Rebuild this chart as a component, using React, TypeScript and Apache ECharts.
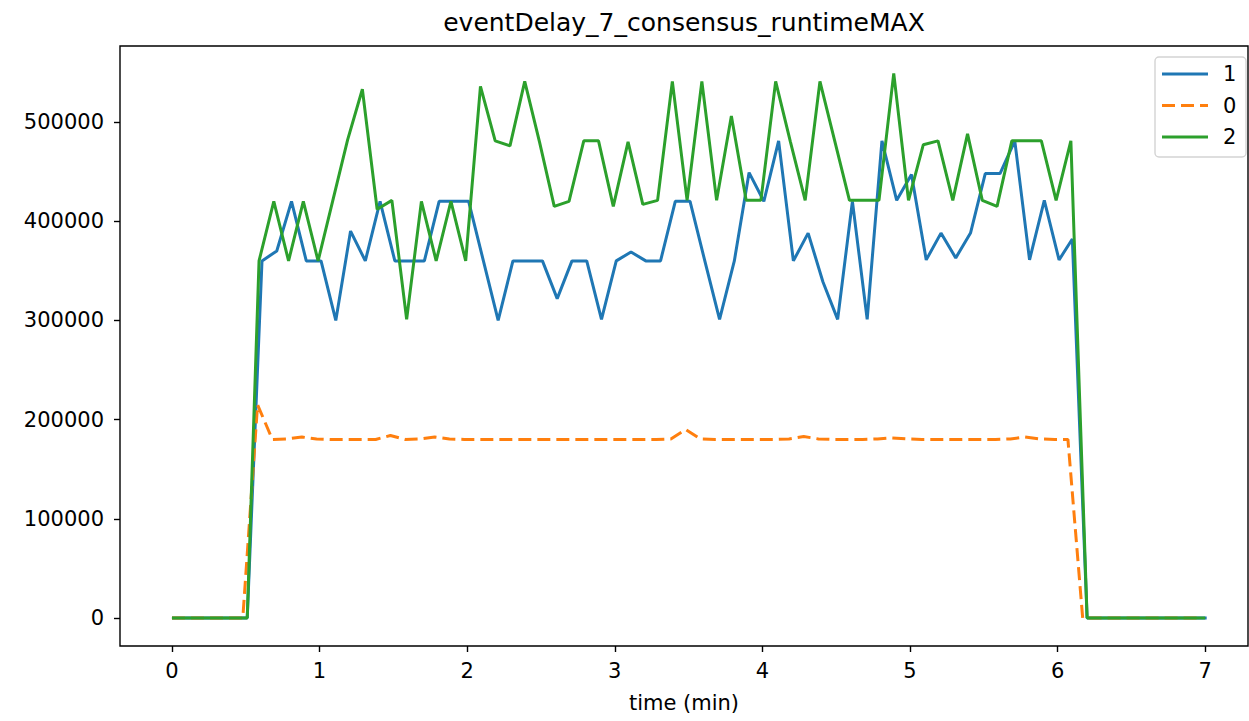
import React, { useEffect, useRef } from "react";
import * as echarts from "echarts";

// sample times (minutes)
const timesBlue = [
  0, 0.1, 0.2, 0.3, 0.4, 0.51,
  0.61, 0.71, 0.81, 0.91, 1.01, 1.11, 1.21, 1.31, 1.41, 1.51,
  1.61, 1.71, 1.81, 1.91, 2.01, 2.11, 2.21, 2.31, 2.41, 2.51,
  2.61, 2.71, 2.81, 2.91, 3.01, 3.11, 3.21, 3.31, 3.41, 3.51,
  3.61, 3.71, 3.81, 3.91, 4.01, 4.11, 4.21, 4.31, 4.41, 4.51,
  4.61, 4.71, 4.81, 4.91, 5.01, 5.11, 5.21, 5.31, 5.41, 5.51,
  5.61, 5.71, 5.81, 5.91, 6.01, 6.1,
  6.2, 6.3, 6.4, 6.5, 6.6, 6.7, 6.8, 6.9, 7.01,
];
const timesGreen = [
  0, 0.1, 0.2, 0.3, 0.4, 0.51,
  0.59, 0.69, 0.79, 0.89, 0.99, 1.09, 1.19, 1.29, 1.39, 1.49,
  1.59, 1.69, 1.79, 1.89, 1.99, 2.09, 2.19, 2.29, 2.39, 2.49,
  2.59, 2.69, 2.79, 2.89, 2.99, 3.09, 3.19, 3.29, 3.39, 3.49,
  3.59, 3.69, 3.79, 3.89, 3.99, 4.09, 4.19, 4.29, 4.39, 4.49,
  4.59, 4.69, 4.79, 4.89, 4.99, 5.09, 5.19, 5.29, 5.39, 5.49,
  5.59, 5.69, 5.79, 5.89, 5.99, 6.09,
  6.2, 6.3, 6.4, 6.5, 6.6, 6.7, 6.8, 6.9, 7.0,
];
const timesOrange = [
  0, 0.08, 0.18, 0.28, 0.38, 0.48,
  0.58, 0.68, 0.78, 0.88, 0.98, 1.08, 1.18, 1.28, 1.38, 1.48,
  1.58, 1.68, 1.78, 1.88, 1.98, 2.08, 2.18, 2.28, 2.38, 2.48,
  2.58, 2.68, 2.78, 2.88, 2.98, 3.08, 3.18, 3.28, 3.38, 3.48,
  3.58, 3.68, 3.78, 3.88, 3.98, 4.08, 4.18, 4.28, 4.38, 4.48,
  4.58, 4.68, 4.78, 4.88, 4.98, 5.08, 5.18, 5.28, 5.38, 5.48,
  5.58, 5.68, 5.78, 5.88, 5.98, 6.07,
  6.17, 6.27, 6.37, 6.47, 6.57, 6.67, 6.77, 6.87, 6.98,
];

// series "1"
const values1 = [
  0, 0, 0, 0, 0, 0,
  360000, 370000, 420000, 360000, 360000, 300000, 390000, 360000, 420000, 360000,
  360000, 360000, 420000, 420000, 420000, 360000, 300000, 360000, 360000, 360000,
  322000, 360000, 360000, 301000, 360000, 369000, 360000, 360000, 420000, 420000,
  360000, 301000, 360000, 449000, 420000, 481000, 360000, 388000, 339000, 301000,
  420000, 301000, 481000, 421000, 447000, 361000, 388000, 363000, 388000, 448000,
  448000, 481000, 361000, 421000, 361000, 382000,
  0, 0, 0, 0, 0, 0, 0, 0, 0,
];
// series "0"
const values0 = [
  0, 0, 0, 0, 0, 0,
  215000, 180000, 180500, 182500, 180500, 180000, 180000, 180000, 180000, 184000,
  180000, 180500, 182500, 180500, 180000, 180000, 180000, 180000, 180000, 180000,
  180000, 180000, 180000, 180000, 180000, 180000, 180000, 180000, 180500, 190000,
  180500, 180000, 180000, 180000, 180000, 180000, 180500, 183000, 180500, 180000,
  180000, 180000, 180500, 181500, 180500, 180000, 180000, 180000, 180000, 180000,
  180000, 180500, 182500, 180500, 180000, 180000,
  0, 0, 0, 0, 0, 0, 0, 0, 0,
];
// series "2"
const values2 = [
  0, 0, 0, 0, 0, 0,
  360000, 420000, 360000, 420000, 360000, 421000, 482000, 533000, 412000, 421000,
  301000, 420000, 360000, 420000, 360000, 536000, 481000, 476000, 541000, 480000,
  415000, 420000, 481000, 481000, 415000, 480000, 417000, 421000, 541000, 421000,
  541000, 421000, 506000, 421000, 421000, 541000, 480000, 421000, 541000, 481000,
  421000, 421000, 421000, 549000, 421000, 477000, 481000, 421000, 488000, 421000,
  415000, 481000, 481000, 481000, 421000, 481000,
  0, 0, 0, 0, 0, 0, 0, 0, 0,
];

const seriesNames = ["1", "0", "2"];
const seriesColors = ["#1f77b4", "#ff7f0e", "#2ca02c"];
const xTicks = [0, 1, 2, 3, 4, 5, 6, 7];
const yTicks = [0, 100000, 200000, 300000, 400000, 500000];
const titleText = "eventDelay_7_consensus_runtimeMAX";
const xName = "time (min)";

const FONT = "DejaVu Sans";
const LW = 3;
const DASH = [13, 6];

function pairs(t: number[], v: number[]) {
  return v.map((y, i) => [t[i], y]);
}

export default function App() {
  const ref = useRef<HTMLDivElement>(null);
  useEffect(() => {
    if (!ref.current) return;
    const chart = echarts.init(ref.current, null, { renderer: "svg" });
    const axisTick = { show: true, length: 6, inside: false, lineStyle: { color: "#000", width: 1.4 } };
    const labelStyle = { fontFamily: FONT, fontSize: 21, color: "#000" };

    // legend drawn as graphics (matplotlib style)
    const legX = 1155, legY = 57, legW = 91, legH = 100;
    const rowY = [74, 105.5, 137];
    const legendEls: any[] = [
      {
        type: "rect",
        shape: { x: legX, y: legY, width: legW, height: legH, r: 4 },
        style: { fill: "rgba(255,255,255,0.8)", stroke: "#d3d3d3", lineWidth: 1.4 },
        z: 100,
      },
    ];
    seriesNames.forEach((n, i) => {
      legendEls.push({
        type: "line",
        shape: { x1: 1162, y1: rowY[i], x2: 1208, y2: rowY[i] },
        style: {
          stroke: seriesColors[i],
          lineWidth: LW,
          lineDash: n === "0" ? DASH : null,
        },
        z: 101,
      });
      legendEls.push({
        type: "text",
        x: 1223,
        y: rowY[i],
        style: {
          text: n,
          fontFamily: FONT,
          fontSize: 21,
          fill: "#000",
          verticalAlign: "middle",
          align: "left",
        },
        z: 101,
      });
    });

    chart.setOption({
      animation: false,
      backgroundColor: "#fff",
      grid: {
        left: 120,
        right: 1,
        top: 46,
        bottom: 75,
        show: true,
        borderColor: "#000",
        borderWidth: 1.4,
        backgroundColor: "transparent",
      },
      graphic: [
        {
          type: "text",
          x: 684,
          y: 22,
          style: {
            text: titleText,
            fontFamily: FONT,
            fontSize: 25,
            fill: "#000",
            align: "center",
            verticalAlign: "middle",
          },
        },
        ...legendEls,
      ],
      xAxis: {
        type: "value",
        min: -0.352,
        max: 7.29,
        name: xName,
        nameLocation: "middle",
        nameGap: 46,
        nameTextStyle: { fontFamily: FONT, fontSize: 21, color: "#000" },
        axisLine: { show: false, onZero: false },
        axisTick: { ...axisTick, customValues: xTicks },
        axisLabel: { ...labelStyle, margin: 14, customValues: xTicks, formatter: (v: number) => String(v) },
        splitLine: { show: false },
      },
      yAxis: {
        type: "value",
        min: -28200,
        max: 576600,
        axisLine: { show: false, onZero: false },
        axisTick: { ...axisTick, customValues: yTicks },
        axisLabel: { ...labelStyle, margin: 16, customValues: yTicks, formatter: (v: number) => String(v) },
        splitLine: { show: false },
      },
      series: [
        {
          name: seriesNames[0],
          type: "line",
          data: pairs(timesBlue, values1),
          showSymbol: false,
          symbol: "none",
          lineStyle: { color: seriesColors[0], width: LW },
        },
        {
          name: seriesNames[1],
          type: "line",
          data: pairs(timesOrange, values0),
          showSymbol: false,
          symbol: "none",
          lineStyle: { color: seriesColors[1], width: LW, type: DASH },
        },
        {
          name: seriesNames[2],
          type: "line",
          data: pairs(timesGreen, values2),
          showSymbol: false,
          symbol: "none",
          lineStyle: { color: seriesColors[2], width: LW },
        },
      ],
    });
    return () => chart.dispose();
  }, []);
  return (
    <div
      ref={ref}
      style={{ position: "fixed", left: 0, top: 0, width: 1249, height: 721, background: "#fff" }}
    />
  );
}
